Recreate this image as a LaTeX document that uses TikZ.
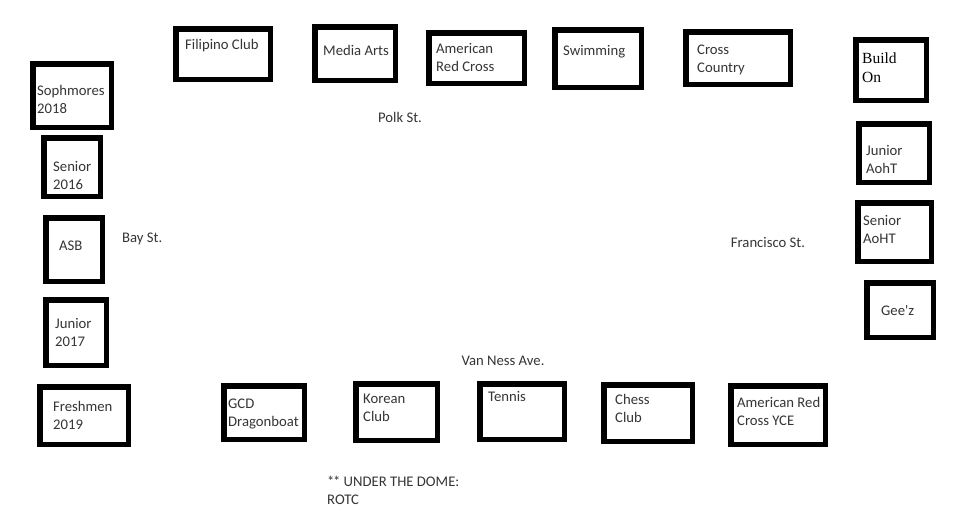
\documentclass[tikz,border=0pt]{standalone}
\usepackage{fontspec}
\setmainfont{Carlito}
\newfontfamily\serifbuild{Liberation Serif}
\definecolor{txt}{HTML}{353535}
\newcommand\clubbox[5]{\node[box, minimum width={#4-#2-5.5}, minimum height={#5-#3-5.5}] (#1) at ({(#2+#4)/2},{(#3+#5)/2}) {};}
\begin{document}
\begin{tikzpicture}[x=1pt,y=-1pt,
  box/.style={draw=black, line width=5.5pt, rectangle, inner sep=0pt, fill=white},
  lbl/.style={inner sep=0pt, align=left, text=txt, font=\fontsize{14.7}{18}\selectfont},
  street/.style={inner sep=0pt, text=txt, font=\fontsize{14.7}{18}\selectfont}]
\useasboundingbox (0,0) rectangle (974,517);
% boxes
\clubbox{soph}{30}{61}{114}{130}
\clubbox{sen16}{41}{135}{103}{199}
\clubbox{asb}{43}{215}{105}{284}
\clubbox{jun17}{43}{297}{109}{368}
\clubbox{fresh}{37}{384}{131}{447}
\clubbox{fil}{173}{26}{273}{82}
\clubbox{media}{312}{24}{398}{83}
\clubbox{arc}{426}{30}{527}{86}
\clubbox{swim}{552}{27}{644}{90}
\clubbox{xc}{683}{29}{793}{87}
\clubbox{build}{853}{37}{929}{103}
\clubbox{junA}{856}{121}{932}{185}
\clubbox{senA}{855}{200}{934}{264}
\clubbox{geez}{864}{280}{936}{340}
\clubbox{gcd}{221}{383}{307}{442}
\clubbox{kor}{353}{381}{440}{443}
\clubbox{ten}{477}{381}{567}{442}
\clubbox{chess}{601}{382}{695}{444}
\clubbox{arcy}{728}{383}{828}{447}
% labels (base anchor = baseline of last line)
\node[lbl, anchor=base west] (soph-t) at (37,113) {Sophmores\\2018};
\node[lbl, anchor=base west] (sen16-t) at (53,189) {Senior\\2016};
\node[lbl, anchor=base west] (asb-t) at (59,250) {ASB};
\node[lbl, anchor=base west] (jun17-t) at (55,346) {Junior\\2017};
\node[lbl, anchor=base west] (fresh-t) at (53,429) {Freshmen\\2019};
\node[lbl, anchor=base west] (fil-t) at (185,49) {Filipino Club};
\node[lbl, anchor=base west] (media-t) at (323,55) {Media Arts};
\node[lbl, anchor=base west] (arc-t) at (436,71) {American\\Red Cross};
\node[lbl, anchor=base west] (swim-t) at (563,55) {Swimming};
\node[lbl, anchor=base west] (xc-t) at (697,72) {Cross\\Country};
\node[lbl, anchor=base west, font=\serifbuild\fontsize{15.5}{19}\selectfont, text=black] (build-t) at (862,82) {Build\\On};
\node[lbl, anchor=base west] (junA-t) at (866,173) {Junior\\AohT};
\node[lbl, anchor=base west] (senA-t) at (863,243) {Senior\\AoHT};
\node[lbl, anchor=base west] (geez-t) at (881,315) {Gee\textquotesingle z};
\node[lbl, anchor=base west] (gcd-t) at (228,426) {GCD\\Dragonboat};
\node[lbl, anchor=base west] (kor-t) at (363,421) {Korean\\Club};
\node[lbl, anchor=base west] (ten-t) at (488,401) {Tennis};
\node[lbl, anchor=base west] (chess-t) at (615,422) {Chess\\Club};
\node[lbl, anchor=base west] (arcy-t) at (737,425) {American Red\\Cross YCE};
% streets
\node[street, anchor=base] (polk) at (400,122) {Polk St.};
\node[street, anchor=base west] (bay) at (122,242) {Bay St.};
\node[street, anchor=base] (francisco) at (768,247) {Francisco St.};
\node[street, anchor=base] (vanness) at (503,365) {Van Ness Ave.};
\node[lbl, anchor=base west] (dome) at (327,504) {*\kern-1.5pt* UNDER THE DOME:\\ROTC};
\end{tikzpicture}
\end{document}
